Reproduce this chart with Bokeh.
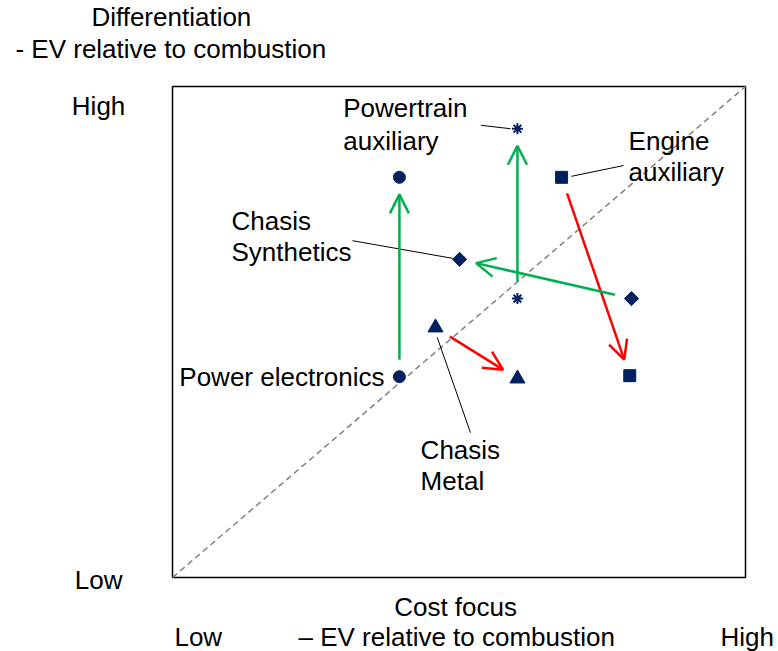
from bokeh.plotting import figure
from bokeh.models import Range1d, Label, Arrow, OpenHead
from bokeh.embed import file_html
from bokeh.resources import INLINE
import math

# ---- data ----
names = ["Power electronics", "Powertrain auxiliary", "Engine auxiliary", "Chasis Synthetics", "Chasis Metal"]
markers = ["circle", "asterisk", "square", "square", "triangle"]
marker_angles = [0, 0, 0, math.pi / 4, 0]
marker_sizes = [12, 11, 12, 10, 15]
x_from = [3.96, 6.02, 6.79, 8.01, 4.59]
y_from = [4.09, 5.68, 8.15, 5.68, 5.09]
x_to = [3.96, 6.02, 7.98, 5.01, 6.02]
y_to = [8.15, 9.14, 4.11, 6.48, 4.05]
arrow_colors = ["#00B050", "#00B050", "#FF0000", "#00B050", "#FF0000"]

diag_x = [0, 10]
diag_y = [0, 10]
box_left, box_right, box_bottom, box_top = [0], [10], [0], [10]

# label lines (text, x, y, align)
label_texts = [
    ("Powertrain", 2.98, 9.57, "left"), ("auxiliary", 2.98, 8.90, "left"),
    ("Engine", 7.96, 8.90, "left"), ("auxiliary", 7.96, 8.25, "left"),
    ("Chasis", 1.03, 7.27, "left"), ("Synthetics", 1.03, 6.62, "left"),
    ("Chasis", 4.33, 2.59, "left"), ("Metal", 4.33, 1.96, "left"),
    ("Power electronics", 3.70, 4.09, "right"),
]
# leader lines
leader_x = [[5.38, 5.90], [6.96, 7.87], [3.14, 4.89], [4.62, 5.20]]
leader_y = [[9.21, 9.14], [8.17, 8.39], [6.86, 6.50], [4.89, 2.95]]

# outer texts
outer_texts = [
    ("Differentiation", -0.02, 11.41, "center"),
    ("- EV relative to combustion", -0.03, 10.77, "center"),
    ("High", -1.29, 9.61, "center"),
    ("Low", -1.29, -0.06, "center"),
    ("Cost focus", 4.94, -0.61, "center"),
    ("\u2013 EV relative to combustion", 4.96, -1.22, "center"),
    ("Low", 0.45, -1.22, "center"),
    ("High", 10.03, -1.22, "center"),
]

FONT = "Liberation Sans"
FS = "26px"

PX_X = 573 / 10.0
PX_Y = 491 / 10.0
W, H = 778, 651
p = figure(width=W, height=H,
           x_range=Range1d(-172 / PX_X, (W - 172) / PX_X),
           y_range=Range1d((577 - H) / PX_Y, 577 / PX_Y),
           x_axis_location=None, y_axis_location=None,
           toolbar_location=None, output_backend="svg",
           min_border=0)
p.xgrid.visible = False
p.ygrid.visible = False
p.outline_line_color = None
p.background_fill_color = "white"
p.border_fill_color = "white"

p.quad(left=box_left, right=box_right, bottom=box_bottom, top=box_top,
       fill_color=None, line_color="black", line_width=1.5)
p.line(diag_x, diag_y, line_color="#808080", line_width=1.5, line_dash="6 4")

# leader lines
p.multi_line(leader_x, leader_y, line_color="black", line_width=1)

# arrows, shortened in pixel space
S0, S1 = 17.0, 17.0
for i in range(len(names)):
    dxp = (x_to[i] - x_from[i]) * PX_X
    dyp = (y_to[i] - y_from[i]) * PX_Y
    L = math.hypot(dxp, dyp)
    xs = x_from[i] + (x_to[i] - x_from[i]) * S0 / L
    ys = y_from[i] + (y_to[i] - y_from[i]) * S0 / L
    xe = x_to[i] - (x_to[i] - x_from[i]) * S1 / L
    ye = y_to[i] - (y_to[i] - y_from[i]) * S1 / L
    p.add_layout(Arrow(end=OpenHead(size=19, line_color=arrow_colors[i], line_width=2.5),
                       x_start=xs, y_start=ys, x_end=xe, y_end=ye,
                       line_color=arrow_colors[i], line_width=2.5))

for i in range(len(names)):
    kw = dict(marker=markers[i], size=marker_sizes[i], angle=marker_angles[i],
              fill_color="#002060", line_color="#002060")
    if markers[i] == "asterisk":
        kw["line_width"] = 2
    p.scatter([x_from[i], x_to[i]], [y_from[i], y_to[i]], **kw)

for t, x, y, a in label_texts + outer_texts:
    p.add_layout(Label(x=x, y=y, text=t, text_align=a, text_baseline="middle",
                       text_font=FONT, text_font_size=FS, text_color="black"))

open("out.html", "w").write(file_html(p, INLINE))
